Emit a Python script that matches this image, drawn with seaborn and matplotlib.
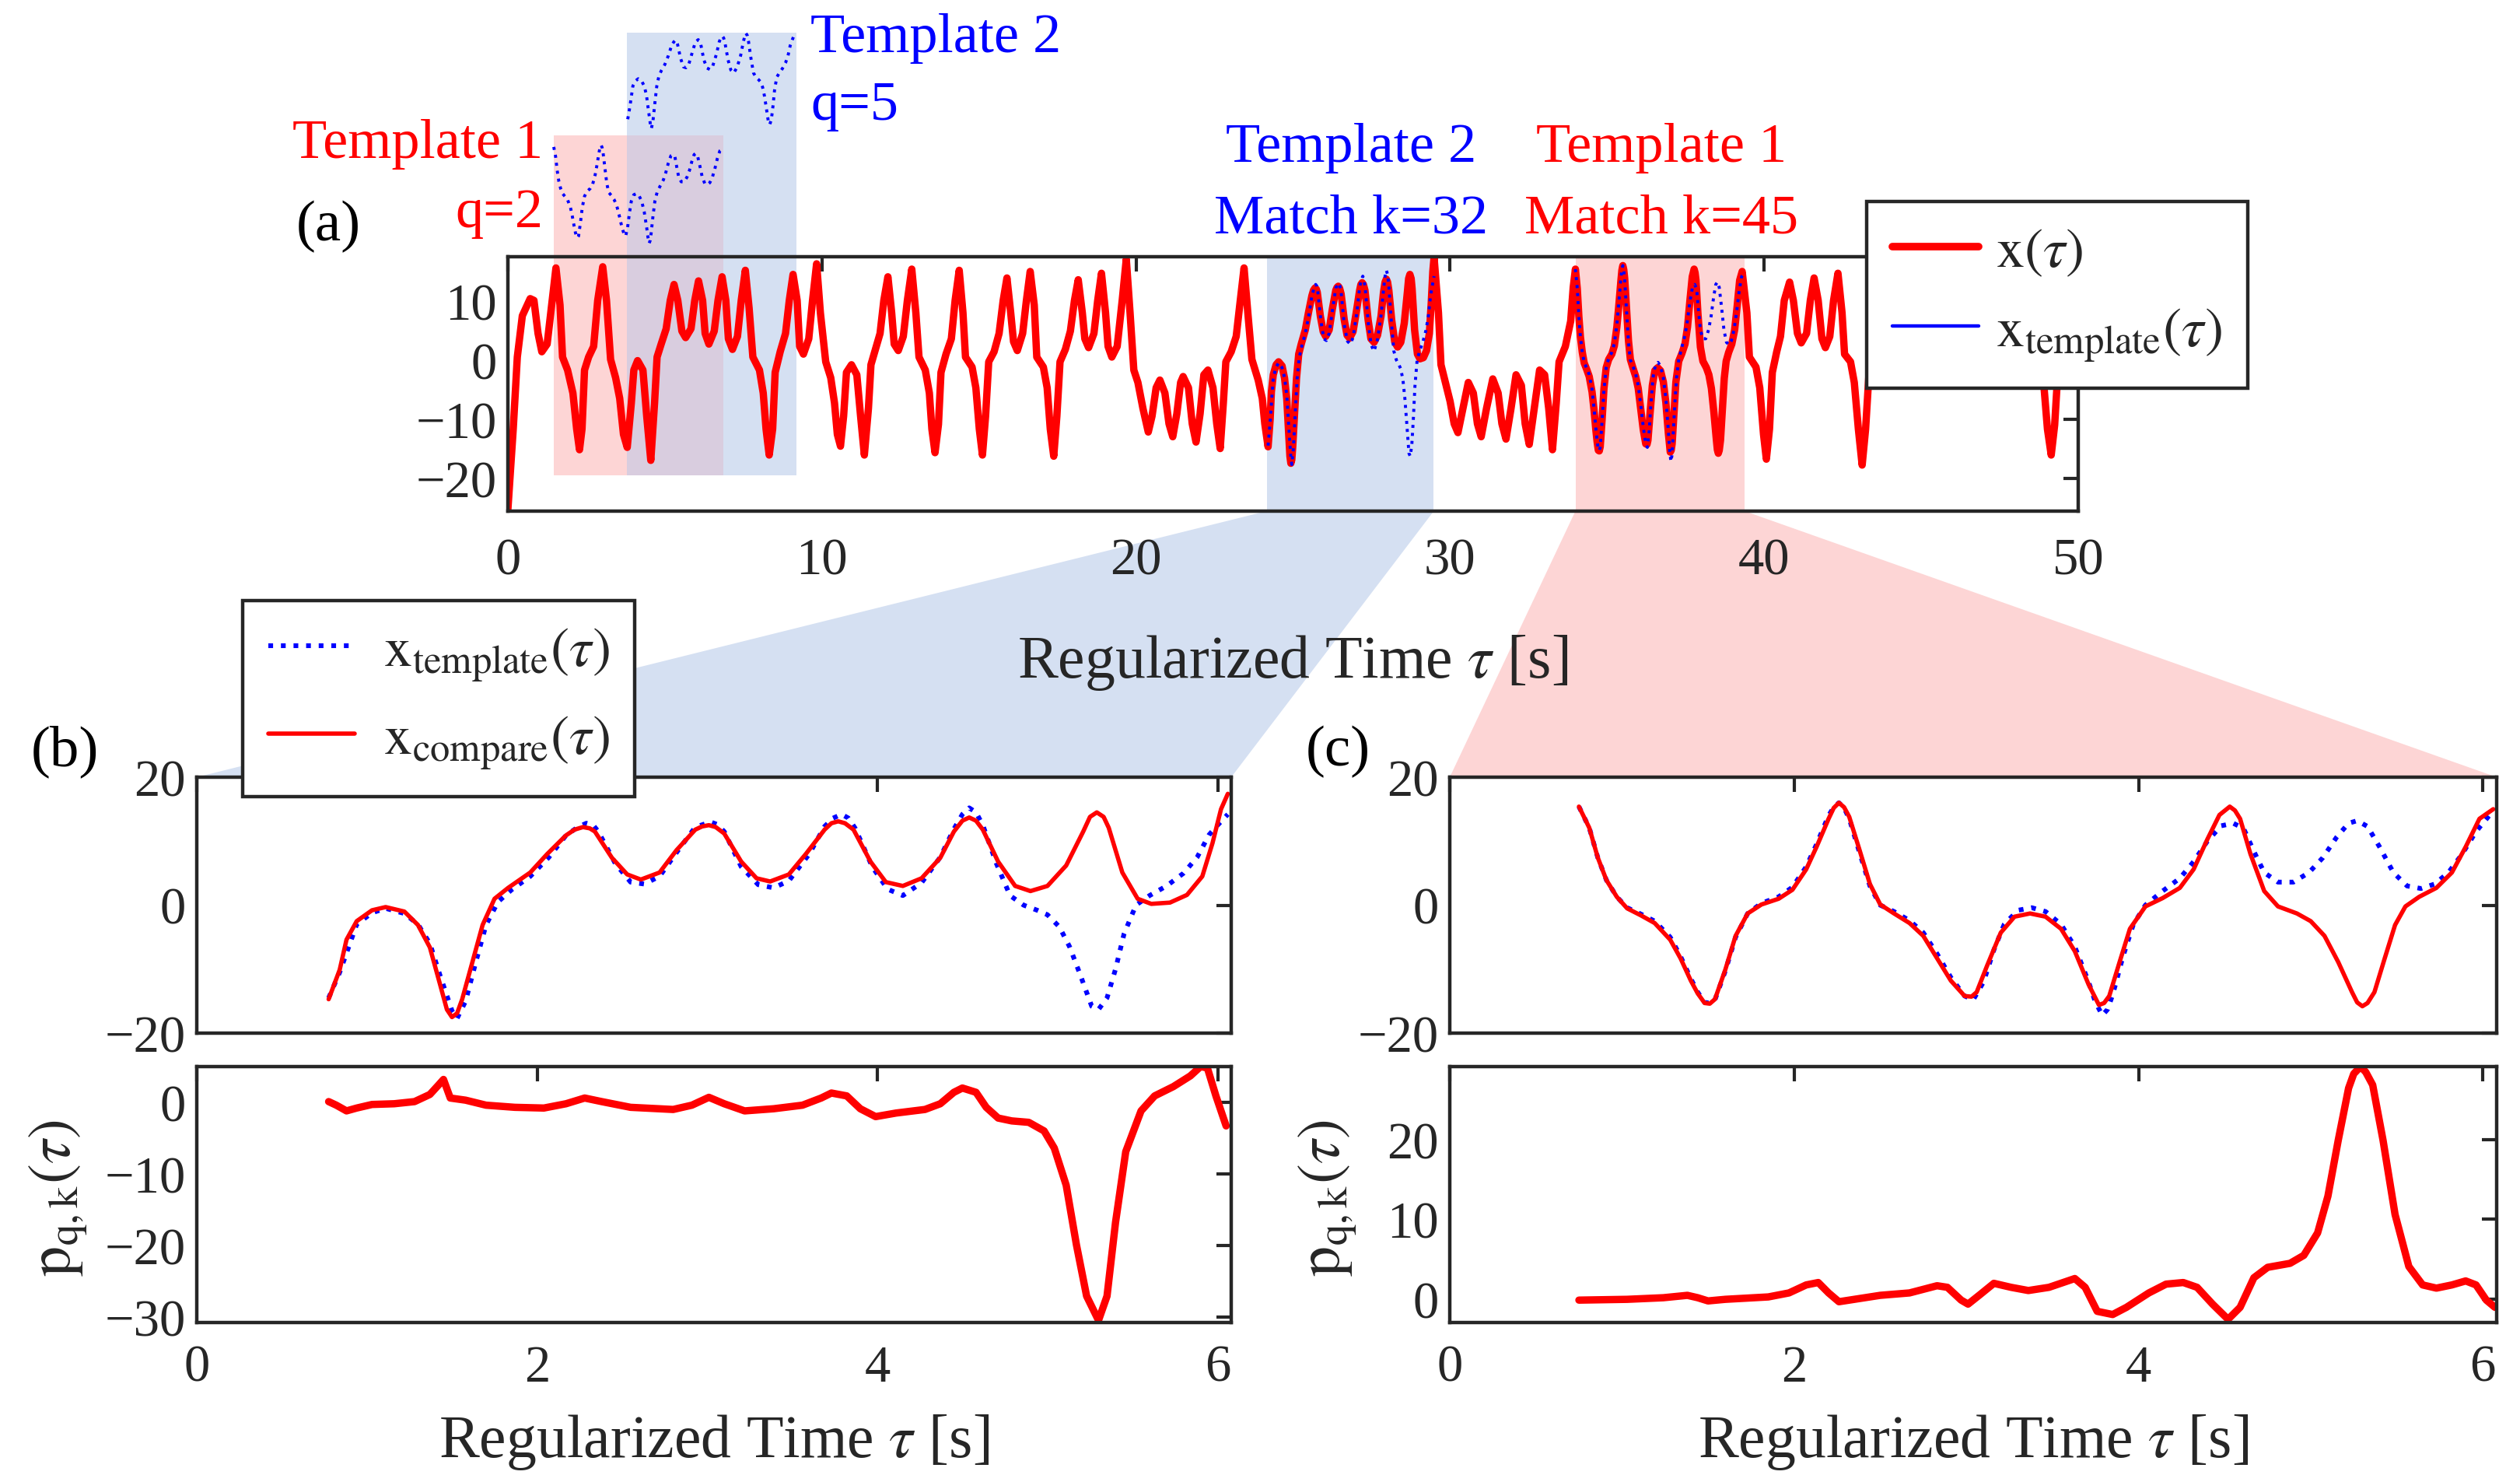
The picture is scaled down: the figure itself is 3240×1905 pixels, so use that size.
import numpy as np
import matplotlib
matplotlib.use("Agg")
import matplotlib.pyplot as plt
import seaborn as sns
from matplotlib.lines import Line2D
from matplotlib.patches import Polygon, Rectangle

# ---------------- data ----------------
# Panel (a): long signal x(tau), pieces outside the two match windows
SEG_A_T = [0.00,0.17,0.30,0.46,0.71,0.83,0.96,1.08,1.25,1.41,
           1.53,1.66,1.74,1.90,2.07,2.19,2.28,2.36,2.44,2.57,
           2.73,2.86,3.02,3.14,3.27,3.43,3.56,3.68,3.80,3.93,
           4.01,4.13,4.30,4.42,4.55,4.67,4.75,4.88,5.04,5.17,
           5.29,5.41,5.54,5.66,5.83,5.95,6.07,6.20,6.28,6.40,
           6.57,6.69,6.82,6.94,7.02,7.15,7.31,7.43,7.56,7.68,
           7.80,8.01,8.13,8.22,8.32,8.43,8.51,8.67,8.84,8.96,
           9.08,9.21,9.29,9.41,9.58,9.70,9.83,9.95,10.12,10.28,
           10.40,10.49,10.59,10.69,10.78,10.94,11.11,11.23,11.35,11.48,
           11.56,11.68,11.85,11.97,12.10,12.22,12.30,12.43,12.59,12.72,
           12.86,12.99,13.09,13.29,13.42,13.50,13.60,13.71,13.79,13.95,
           14.12,14.24,14.37,14.49,14.57,14.78,14.90,15.01,15.11,15.21,
           15.31,15.48,15.64,15.77,15.89,16.01,16.10,16.22,16.39,16.51,
           16.63,16.76,16.84,17.05,17.17,17.27,17.38,17.48,17.58,17.75,
           17.91,18.04,18.16,18.29,18.37,18.49,18.66,18.78,18.90,19.03,
           19.11,19.23,19.40,19.56,19.69,19.81,19.93,20.06,20.22,20.39,
           20.51,20.64,20.76,20.92,21.05,21.17,21.30,21.42,21.50,21.67,
           21.79,21.91,22.04,22.16,22.29,22.45,22.57,22.68,22.78,22.86,
           23.03,23.19,23.32,23.44,23.56,23.69,23.89,24.02,24.10]
SEG_A_X = [-25.3,-11.7,0.5,7.5,10.4,10.1,4.5,1.4,2.7,10.1,
           15.6,9.3,0.5,-1.7,-5.6,-11.7,-15.2,-11.7,-1.7,0.5,
           2.3,10.1,15.8,10.1,0.1,-3.0,-6.5,-12.6,-14.8,-7.3,
           -1.7,-0.1,-1.7,-9.5,-17.0,-7.3,0.5,2.7,5.3,10.1,
           12.8,10.1,4.9,3.8,5.3,10.1,13.4,10.1,4.5,2.7,
           4.9,10.1,14.1,10.1,3.6,1.8,4.0,10.1,15.2,8.8,
           0.5,-1.7,-5.6,-11.7,-16.1,-11.7,-2.1,1.4,4.5,10.1,
           14.5,10.1,2.3,1.0,3.6,10.1,16.3,8.0,-0.3,-3.0,
           -7.3,-12.6,-14.6,-9.5,-2.1,-0.8,-2.5,-9.5,-16.1,-8.2,
           -0.8,1.4,4.5,10.1,14.1,8.0,2.7,1.6,4.0,10.1,
           15.4,8.0,0.5,-1.7,-5.6,-11.7,-15.7,-10.9,-2.1,1.0,
           3.6,10.1,15.2,8.0,0.5,-1.2,-4.7,-11.7,-16.1,-9.5,
           -0.3,1.4,4.5,10.1,13.9,8.0,3.1,1.6,4.5,10.1,
           15.0,9.3,0.5,-1.2,-4.7,-11.7,-16.3,-9.5,-0.3,1.8,
           4.9,10.1,13.6,8.0,3.6,2.1,4.5,10.1,14.7,8.0,
           2.3,0.5,2.3,10.1,17.1,8.0,-1.7,-3.8,-8.2,-12.2,
           -9.5,-4.7,-3.4,-5.6,-10.8,-13.0,-9.1,-3.8,-2.8,-4.7,
           -10.8,-13.9,-9.1,-2.5,-1.7,-4.7,-10.8,-15.0,-7.3,-0.3,
           1.4,4.0,10.1,15.6,8.0,0.1,-3.4,-6.5,-10.8]
SEG_B_T = [29.63,29.71,29.84,30.00,30.13,30.25,30.41,30.58,30.74,30.87,
           30.99,31.16,31.36,31.53,31.65,31.78,31.94,32.10,32.27,32.39,
           32.52,32.68,32.85,33.01,33.14,33.26,33.38,33.47,33.67,33.84,
           33.92]
SEG_B_X = [8.0,-0.8,-3.6,-7.0,-10.8,-12.3,-8.2,-3.8,-5.6,-10.8,
           -13.0,-8.2,-3.2,-5.6,-10.8,-13.4,-8.2,-2.5,-4.3,-10.8,
           -14.3,-8.2,-1.7,-2.5,-8.2,-15.2,-7.3,-0.3,2.3,6.6,
           12.3]
SEG_C_T = [39.45,39.53,39.74,39.86,39.98,40.07,40.17,40.26,40.40,40.52,
           40.64,40.81,40.93,41.06,41.18,41.35,41.47,41.59,41.72,41.84,
           41.95,42.09,42.21,42.35,42.48,42.56,42.75,42.87,43.00,43.12,
           43.23,43.33,43.46,43.58,43.72,43.86,43.98,44.08,44.23,44.39,
           44.49,44.61,44.73,44.83,44.98,45.14,45.24,45.36,45.48,45.58,
           45.73,45.89,45.99,46.11,46.23,46.33,46.48,46.64,46.74,46.86,
           46.98,47.08,47.24,47.40,47.50,47.62,47.74,47.84,47.99,48.15,
           48.25,48.37,48.49,48.57,48.76,48.90,49.02,49.14,49.25,49.34,
           49.46,49.58,49.72,49.86,50.00]
SEG_C_X = [8.0,0.5,-1.2,-4.7,-12.6,-16.8,-11.7,-2.1,1.4,4.0,
           10.1,13.2,10.1,4.5,2.9,4.5,10.1,13.9,10.1,3.6,
           2.1,4.0,10.1,14.7,8.0,1.0,-0.3,-3.8,-11.7,-17.8,
           -11.7,-3.0,1.4,4.0,10.0,13.5,10.0,4.5,2.5,4.5,
           10.0,14.0,10.0,4.0,2.5,4.5,10.0,15.0,9.0,3.5,
           2.0,4.0,10.0,13.0,10.0,4.5,3.0,4.5,10.0,14.5,
           9.0,3.5,2.0,4.0,10.0,15.5,8.5,3.0,1.5,3.5,
           10.0,14.5,8.0,1.0,-0.3,-3.9,-11.7,-16.1,-11.0,-3.0,
           1.4,4.0,10.0,13.5,10.0]

# Panel (b): x_compare (red) and x_template (blue, template 2), local time
B_CMP_T = [0.775,0.84,0.88,0.94,1.03,1.11,1.22,1.30,1.37,1.43,
           1.47,1.50,1.53,1.56,1.62,1.68,1.75,1.83,1.96,2.06,
           2.17,2.22,2.27,2.31,2.34,2.44,2.53,2.61,2.72,2.82,
           2.93,2.97,3.01,3.05,3.10,3.20,3.29,3.37,3.48,3.58,
           3.69,3.73,3.77,3.81,3.86,3.96,4.05,4.15,4.26,4.37,
           4.45,4.50,4.54,4.58,4.62,4.71,4.81,4.90,5.00,5.11,
           5.21,5.25,5.29,5.33,5.36,5.44,5.53,5.61,5.72,5.82,
           5.91,5.97,6.02,6.06]
B_CMP_X = [-14.7,-10.1,-5.4,-2.5,-0.8,-0.3,-1.0,-3.1,-6.6,-12.4,
           -16.3,-17.5,-16.9,-14.7,-8.9,-3.1,1.0,2.7,5.1,8.0,
           10.9,11.8,12.2,12.0,11.5,7.4,4.8,4.0,5.1,8.6,
           11.8,12.3,12.5,12.2,11.2,6.8,4.2,3.7,4.8,8.0,
           11.8,12.8,13.1,12.8,11.8,6.8,3.6,3.0,4.2,7.4,
           11.5,13.2,13.7,13.2,11.8,6.8,3.0,2.2,3.0,6.2,
           11.5,13.8,14.5,13.8,12.1,5.1,1.0,0.2,0.4,1.6,
           4.5,9.7,15.0,17.4]
B_TPL_T = [0.775,0.84,0.94,1.03,1.11,1.22,1.30,1.37,1.43,1.50,
           1.53,1.58,1.64,1.70,1.77,1.85,1.96,2.07,2.17,2.24,
           2.29,2.33,2.36,2.46,2.55,2.63,2.72,2.83,2.93,3.02,
           3.06,3.10,3.20,3.30,3.39,3.48,3.60,3.69,3.74,3.79,
           3.83,3.87,3.97,4.06,4.15,4.26,4.37,4.45,4.50,4.54,
           4.58,4.62,4.70,4.78,4.86,4.94,5.00,5.07,5.13,5.19,
           5.26,5.30,5.35,5.40,5.45,5.52,5.60,5.70,5.80,5.88,
           5.95,6.00,6.06]
B_TPL_X = [-14.5,-10.5,-3.0,-1.2,-0.5,-1.3,-3.0,-6.0,-11.0,-16.5,
           -17.7,-15.0,-8.9,-3.1,0.5,2.4,4.5,7.5,10.9,12.2,
           12.8,12.5,11.5,6.5,3.6,3.3,4.5,8.6,12.2,13.0,
           12.6,11.5,6.0,3.2,2.7,3.8,8.0,12.3,13.6,14.2,
           13.6,12.0,6.0,2.5,1.5,3.5,7.5,11.9,14.2,15.2,
           14.5,12.5,6.5,1.5,0.0,-0.8,-1.5,-3.4,-6.5,-10.7,
           -15.8,-16.3,-14.5,-10.0,-4.5,0.0,1.5,3.0,5.0,7.5,
           11.0,12.5,14.2]
B_P_T = [0.775,0.82,0.88,0.94,1.03,1.16,1.28,1.37,1.42,1.45,
         1.49,1.58,1.70,1.87,2.04,2.17,2.28,2.38,2.55,2.80,
         2.91,3.01,3.10,3.22,3.39,3.56,3.67,3.73,3.82,3.90,
         3.99,4.11,4.28,4.37,4.45,4.50,4.58,4.64,4.71,4.79,
         4.89,4.98,5.04,5.11,5.17,5.23,5.30,5.35,5.40,5.46,
         5.55,5.63,5.74,5.84,5.90,5.94,5.99,6.05]
B_P_X = [0.1,-0.4,-1.2,-0.8,-0.3,-0.2,0.1,1.1,2.4,3.2,
         0.6,0.3,-0.4,-0.7,-0.8,-0.2,0.6,0.1,-0.7,-1.0,
         -0.4,0.7,-0.2,-1.2,-0.9,-0.4,0.6,1.3,0.9,-0.9,
         -2.0,-1.5,-1.0,-0.2,1.4,2.0,1.4,-0.7,-2.2,-2.6,
         -2.8,-4.0,-6.4,-11.6,-19.9,-27.1,-30.5,-27.1,-16.8,-6.9,
         -1.2,0.9,2.2,3.7,5.0,4.8,0.9,-3.3]

# Panel (c): x_compare (red) and x_template (blue, template 1), local time
C_CMP_T = [0.75,0.81,0.86,0.91,0.97,1.03,1.11,1.19,1.28,1.34,
           1.40,1.44,1.48,1.51,1.54,1.60,1.66,1.73,1.81,1.91,
           1.99,2.07,2.13,2.20,2.23,2.26,2.29,2.32,2.38,2.44,
           2.50,2.58,2.67,2.75,2.83,2.91,2.99,3.03,3.06,3.12,
           3.20,3.28,3.37,3.46,3.55,3.63,3.71,3.77,3.80,3.83,
           3.89,3.95,4.04,4.14,4.24,4.32,4.40,4.47,4.53,4.56,
           4.59,4.65,4.73,4.81,4.92,5.00,5.08,5.16,5.24,5.27,
           5.30,5.33,5.37,5.43,5.49,5.55,5.63,5.73,5.82,5.90,
           5.98,6.06]
C_CMP_X = [15.4,12.1,7.4,3.9,1.3,-0.5,-1.6,-2.8,-5.4,-8.3,
           -11.8,-13.8,-15.3,-15.4,-14.7,-10.1,-4.8,-1.3,0.1,1.0,
           2.4,5.6,9.1,13.5,15.2,16.0,15.3,13.8,8.6,3.3,
           0.1,-1.3,-2.8,-4.8,-8.3,-11.8,-14.2,-14.3,-13.6,-9.5,
           -4.3,-1.8,-1.3,-1.8,-3.7,-7.2,-12.4,-15.6,-15.3,-14.2,
           -8.9,-3.7,-0.2,1.1,2.7,5.6,10.3,14.1,15.4,14.8,
           13.5,8.0,2.2,-0.2,-1.3,-2.5,-4.8,-8.9,-13.6,-15.2,
           -15.8,-15.3,-13.6,-8.3,-3.1,-0.2,1.3,2.7,5.1,9.1,
           13.5,15.0]
C_TPL_T = [0.75,0.81,0.86,0.91,0.97,1.03,1.11,1.19,1.28,1.34,
           1.40,1.44,1.48,1.51,1.54,1.60,1.66,1.73,1.81,1.91,
           1.99,2.07,2.13,2.20,2.23,2.26,2.29,2.32,2.38,2.44,
           2.50,2.58,2.67,2.75,2.83,2.91,2.99,3.04,3.10,3.16,
           3.22,3.30,3.38,3.46,3.55,3.63,3.71,3.75,3.79,3.82,
           3.85,3.91,3.97,4.04,4.14,4.24,4.32,4.40,4.48,4.55,
           4.61,4.67,4.73,4.81,4.90,4.99,5.07,5.15,5.22,5.27,
           5.33,5.40,5.48,5.56,5.64,5.72,5.80,5.88,5.96,6.04,
           6.08]
C_TPL_X = [15.4,12.1,7.4,3.9,1.3,-0.4,-1.4,-2.5,-5.0,-8.0,
           -11.5,-13.6,-15.2,-15.3,-14.8,-10.3,-5.0,-1.3,0.3,1.3,
           2.8,6.0,9.5,14.0,15.3,16.0,15.2,13.5,8.2,3.0,
           0.0,-1.0,-2.4,-4.3,-7.6,-11.3,-14.2,-14.8,-12.0,-7.0,
           -3.0,-0.8,-0.4,-1.0,-3.0,-6.5,-12.0,-15.2,-17.2,-16.3,
           -14.0,-8.0,-3.0,0.0,2.2,4.2,6.8,10.0,12.4,12.8,
           12.0,8.4,5.1,3.6,3.6,5.1,7.4,10.6,12.8,13.2,
           12.3,9.1,5.1,3.0,2.6,3.3,5.1,8.0,11.5,14.1,
           14.4]
C_P_T = [0.75,1.03,1.24,1.38,1.44,1.50,1.60,1.85,1.97,2.07,
         2.14,2.20,2.26,2.38,2.50,2.67,2.83,2.89,2.97,3.01,
         3.08,3.16,3.26,3.36,3.48,3.63,3.69,3.76,3.85,3.93,
         4.06,4.16,4.26,4.34,4.43,4.52,4.59,4.67,4.75,4.88,
         4.96,5.04,5.10,5.16,5.22,5.25,5.29,5.32,5.36,5.42,
         5.49,5.57,5.65,5.73,5.82,5.90,5.96,6.02,6.07]
C_P_X = [-0.1,0.0,0.2,0.5,0.2,-0.2,0.0,0.3,0.8,1.8,
         2.1,0.8,-0.3,0.1,0.5,0.8,1.7,1.5,-0.1,-0.6,
         0.6,2.0,1.5,1.1,1.5,2.6,1.5,-1.5,-1.9,-1.0,
         0.8,1.9,2.1,1.5,-0.6,-2.5,-1.0,2.7,4.0,4.5,
         5.5,8.3,12.9,19.9,26.4,28.2,29.1,28.4,26.8,19.9,
         10.6,4.1,1.8,1.4,1.8,2.3,1.8,-0.1,-1.0]

# time offsets of the windows and the templates
SHIFT_B = 23.43      # panel (b) local time -> panel (a) time (match k=32)
SHIFT_C = 33.24      # panel (c) local time -> panel (a) time (match k=45)
SHIFT_T1 = 0.71      # template 1 (q=2) origin in panel (a)
SHIFT_T2 = 3.04      # template 2 (q=5) origin in panel (a)
WIN_T1 = (1.46, 6.86)
WIN_T2 = (3.79, 9.18)
WIN_B = (24.16, 29.48)
WIN_C = (33.99, 39.38)

MINUS = '\u2212'
A_XTICKS = [0, 10, 20, 30, 40, 50]
A_YTICKS = [-20, -10, 0, 10]
A_YLABELS = [MINUS + '20', MINUS + '10', '0', '10']
BC_XTICKS = [0, 2, 4, 6]
BC_XLABELS = ['0', '2', '4', '6']
UP_YTICKS = [-20, 0, 20]
UP_YLABELS = [MINUS + '20', '0', '20']
B2_YTICKS = [-30, -20, -10, 0]
B2_YLABELS = [MINUS + '30', MINUS + '20', MINUS + '10', '0']
C2_YTICKS = [0, 10, 20]
C2_YLABELS = ['0', '10', '20']

# ---------------- style ----------------
sns.set_theme(style='white')
plt.rcParams['font.family'] = ['Liberation Serif', 'DejaVu Serif']
plt.rcParams['mathtext.fontset'] = 'stix'

RED = '#ff0000'
BLUE = '#0000ff'
SH_BLUE = '#d5e0f2'
SH_RED = '#fdd5d5'
SH_MIX = '#d9cddf'
DARK = '#262626'

W, H = 3240, 1906
fig = plt.figure(figsize=(W / 200, H / 200), dpi=200)
fig.patch.set_facecolor('white')


def rect(x0, y0, x1, y1):
    return [x0 / W, 1 - y1 / H, (x1 - x0) / W, (y1 - y0) / H]


ax_a = fig.add_axes(rect(653, 331, 2672, 658))
ax_b1 = fig.add_axes(rect(253, 1000, 1583, 1329))
ax_b2 = fig.add_axes(rect(253, 1372, 1583, 1701))
ax_c1 = fig.add_axes(rect(1864, 1000, 3210, 1329))
ax_c2 = fig.add_axes(rect(1864, 1372, 3210, 1701))

A_YLIM = (-25.6, 17.5)


def line(ax, t, x, **kw):
    sns.lineplot(x=np.asarray(t, float), y=np.asarray(x, float), ax=ax,
                 estimator=None, sort=False, **kw)


# ---------------- panel (a) ----------------
top_t = np.concatenate([SEG_A_T, np.asarray(B_CMP_T) + SHIFT_B, SEG_B_T,
                        np.asarray(C_CMP_T) + SHIFT_C, SEG_C_T])
top_x = np.concatenate([SEG_A_X, B_CMP_X, SEG_B_X, C_CMP_X, SEG_C_X])

ax_a.add_patch(Rectangle((WIN_T1[0], -19.6), WIN_T1[1] - WIN_T1[0], 38.0 + 19.6,
                         facecolor=SH_RED, edgecolor='none', zorder=0.5, clip_on=False))
ax_a.add_patch(Rectangle((WIN_T2[0], -19.6), WIN_T2[1] - WIN_T2[0], 55.4 + 19.6,
                         facecolor=SH_BLUE, edgecolor='none', zorder=0.5, clip_on=False))
ax_a.add_patch(Rectangle((WIN_T2[0], -19.6), WIN_T1[1] - WIN_T2[0], 38.0 + 19.6,
                         facecolor=SH_MIX, edgecolor='none', zorder=0.6, clip_on=False))
ax_a.axvspan(*WIN_B, facecolor=SH_BLUE, edgecolor='none', zorder=0.5)
ax_a.axvspan(*WIN_C, facecolor=SH_RED, edgecolor='none', zorder=0.5)

line(ax_a, top_t, top_x, color=RED, linewidth=3.4, zorder=3,
     solid_joinstyle='round', solid_capstyle='round')
line(ax_a, np.asarray(B_TPL_T) + SHIFT_B, B_TPL_X, color=BLUE, linewidth=1.4,
     linestyle=':', zorder=4)
line(ax_a, np.asarray(C_TPL_T) + SHIFT_C, C_TPL_X, color=BLUE, linewidth=1.4,
     linestyle=':', zorder=4)
# miniature templates above the axes
line(ax_a, np.asarray(C_TPL_T) + SHIFT_T1, 28.4 + 0.5 * np.asarray(C_TPL_X),
     color=BLUE, linewidth=1.4, linestyle=':', zorder=4, clip_on=False)
line(ax_a, np.asarray(B_TPL_T) + SHIFT_T2, 47.9 + 0.49 * np.asarray(B_TPL_X),
     color=BLUE, linewidth=1.4, linestyle=':', zorder=4, clip_on=False)

ax_a.set_xlim(0, 50)
ax_a.set_ylim(*A_YLIM)
ax_a.set_xticks(A_XTICKS)
ax_a.set_xticklabels([str(v) for v in A_XTICKS])
ax_a.set_yticks(A_YTICKS)
ax_a.set_yticklabels(A_YLABELS)

# ---------------- panel (b) ----------------
line(ax_b1, B_TPL_T, B_TPL_X, color=BLUE, linewidth=2.2, linestyle=':', zorder=3)
line(ax_b1, B_CMP_T, B_CMP_X, color=RED, linewidth=2.0, zorder=4,
     solid_joinstyle='round')
line(ax_b2, B_P_T, B_P_X, color=RED, linewidth=3.4, zorder=3,
     solid_joinstyle='round')

# ---------------- panel (c) ----------------
line(ax_c1, C_TPL_T, C_TPL_X, color=BLUE, linewidth=2.2, linestyle=':', zorder=3)
line(ax_c1, C_CMP_T, C_CMP_X, color=RED, linewidth=2.0, zorder=4,
     solid_joinstyle='round')
line(ax_c2, C_P_T, C_P_X, color=RED, linewidth=3.4, zorder=3,
     solid_joinstyle='round')

for ax in (ax_b1, ax_b2, ax_c1, ax_c2):
    ax.set_xlim(0, 6.08)
    ax.set_xticks(BC_XTICKS)
for ax in (ax_b1, ax_c1):
    ax.set_ylim(-20, 20)
    ax.set_yticks(UP_YTICKS)
    ax.set_yticklabels(UP_YLABELS)
    ax.set_xticklabels([])
for ax in (ax_b2, ax_c2):
    ax.set_xticklabels(BC_XLABELS)
ax_b2.set_ylim(-30.8, 5.0)
ax_b2.set_yticks(B2_YTICKS)
ax_b2.set_yticklabels(B2_YLABELS)
ax_c2.set_ylim(-2.9, 29.1)
ax_c2.set_yticks(C2_YTICKS)
ax_c2.set_yticklabels(C2_YLABELS)

for ax in (ax_a, ax_b1, ax_b2, ax_c1, ax_c2):
    ax.set_xlabel('')
    ax.set_ylabel('')
    ax.set_facecolor('white')
    ax.tick_params(direction='in', top=True, right=True, length=7, width=1.5,
                   colors=DARK, labelsize=24)
    for s in ax.spines.values():
        s.set_linewidth(1.6)
        s.set_color(DARK)
        s.set_zorder(5)
ax_a.tick_params(axis='x', pad=12)
ax_a.tick_params(axis='y', pad=5)
for ax in (ax_b1, ax_b2, ax_c1, ax_c2):
    ax.tick_params(axis='x', pad=10)
    ax.tick_params(axis='y', pad=5)

# ---------------- connecting polygons ----------------
inv = fig.transFigure.inverted()


def to_fig(ax, xy):
    return inv.transform(ax.transData.transform(xy))


for win, axu, col in ((WIN_B, ax_b1, SH_BLUE), (WIN_C, ax_c1, SH_RED)):
    pts = [to_fig(ax_a, (win[0], A_YLIM[0])), to_fig(ax_a, (win[1], A_YLIM[0])),
           to_fig(axu, (6.08, 20)), to_fig(axu, (0, 20))]
    fig.add_artist(Polygon(pts, closed=True, transform=fig.transFigure,
                           facecolor=col, edgecolor='none', zorder=-1))

# ---------------- texts ----------------
def ftext(px, py, s, **kw):
    fig.text(px / W, 1 - py / H, s, **kw)


TS = 26
ftext(698, 203, 'Template 1', color=RED, ha='right', va='baseline', fontsize=TS)
ftext(698, 292, 'q=2', color=RED, ha='right', va='baseline', fontsize=TS)
ftext(1042, 67, 'Template 2', color=BLUE, ha='left', va='baseline', fontsize=TS)
ftext(1042, 154, 'q=5', color=BLUE, ha='left', va='baseline', fontsize=TS)
ftext(1737, 208, 'Template 2', color=BLUE, ha='center', va='baseline', fontsize=TS)
ftext(1737, 299, 'Match k=32', color=BLUE, ha='center', va='baseline', fontsize=TS)
ftext(2136, 208, 'Template 1', color=RED, ha='center', va='baseline', fontsize=TS)
ftext(2136, 299, 'Match k=45', color=RED, ha='center', va='baseline', fontsize=TS)

ftext(422, 291, '(a)', color='black', ha='center', va='center', fontsize=27)
ftext(83, 966, '(b)', color='black', ha='center', va='center', fontsize=27)
ftext(1720, 966, '(c)', color='black', ha='center', va='center', fontsize=27)

XL = r'Regularized Time $\tau$ [s]'
ftext(1662, 852, XL, color=DARK, ha='center', va='center', fontsize=28)
ftext(918, 1873, XL, color=DARK, ha='center', va='baseline', fontsize=28)
ftext(2537, 1873, XL, color=DARK, ha='center', va='baseline', fontsize=28)
YL = r'$\mathrm{p}_{\mathrm{q,k}}(\tau)$'
ftext(75, 1540, YL, color=DARK, ha='center', va='center', fontsize=28, rotation=90)
ftext(1707, 1540, YL, color=DARK, ha='center', va='center', fontsize=28, rotation=90)

# ---------------- legends ----------------
h_a = [Line2D([], [], color=RED, linewidth=3.5), Line2D([], [], color=BLUE, linewidth=1.6)]
l_a = [r'$\mathrm{x}(\tau)$', r'$\mathrm{x}_{\mathrm{template}}(\tau)$']
leg_a = fig.legend(h_a, l_a, loc='upper left', bbox_to_anchor=(2400 / W, 1 - 260 / H),
                   fontsize=26, frameon=True, fancybox=False, edgecolor=DARK,
                   framealpha=1, handlelength=1.55, handletextpad=0.3,
                   borderpad=0.45, labelspacing=0.5, borderaxespad=0)
leg_a.get_frame().set_linewidth(1.6)

h_b = [Line2D([], [], color=BLUE, linewidth=2.2, linestyle=':'),
       Line2D([], [], color=RED, linewidth=2.0)]
l_b = [r'$\mathrm{x}_{\mathrm{template}}(\tau)$', r'$\mathrm{x}_{\mathrm{compare}}(\tau)$']
leg_b = fig.legend(h_b, l_b, loc='upper left', bbox_to_anchor=(312 / W, 1 - 773 / H),
                   fontsize=26, frameon=True, fancybox=False, edgecolor=DARK,
                   framealpha=1, handlelength=1.55, handletextpad=0.5,
                   borderpad=0.45, labelspacing=0.55, borderaxespad=0)
leg_b.get_frame().set_linewidth(1.6)

fig.savefig('out.png', dpi=200, facecolor='white')
